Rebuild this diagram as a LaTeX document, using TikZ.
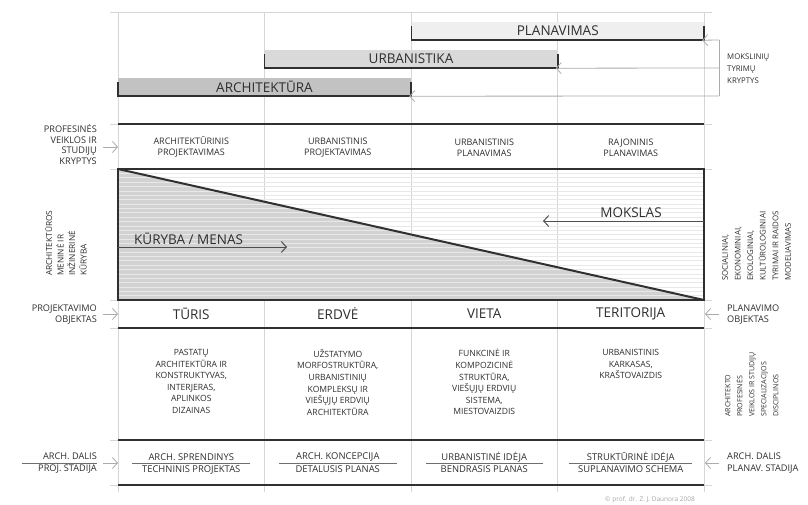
\documentclass[tikz,border=0pt]{standalone}
\usepackage{fontspec}
\setmainfont{Open Sans}
\usepackage{xcolor}
\usepackage{tikz}
\usetikzlibrary{arrows.meta}

\definecolor{ink}{HTML}{303030}
\definecolor{txt}{HTML}{2e2e2e}
\definecolor{rulegray}{HTML}{d6d6d6}
\definecolor{stripegray}{HTML}{e8e8e8}
\definecolor{shadegray}{HTML}{d2d2d2}
\definecolor{barA}{HTML}{c2c2c2}
\definecolor{barU}{HTML}{d9d9d9}
\definecolor{barP}{HTML}{efefef}
\definecolor{pointgray}{HTML}{ababab}

\tikzset{
  heavy/.style={ink,line width=2pt},
  gridline/.style={rulegray,line width=0.8pt},
  bar/.style={inner sep=0pt,minimum height=18pt,text=txt,font=\fontsize{13.5}{13.5}\selectfont},
  big/.style={inner sep=0pt,text=txt,font=\fontsize{13.5}{13.5}\selectfont},
  head/.style={inner sep=0pt,text=txt,align=center,font=\fontsize{9}{11}\selectfont},
  desc/.style={inner sep=0pt,text=txt,align=center,anchor=north,font=\fontsize{8.6}{11.6}\selectfont},
  stage/.style={inner sep=0pt,text=txt,font=\fontsize{9.4}{9.4}\selectfont},
  side/.style={inner sep=0pt,text=txt,font=\fontsize{9.2}{10.8}\selectfont},
  upright/.style={inner sep=0pt,text=txt,rotate=90,align=left,anchor=north west,font=\fontsize{8}{11.8}\selectfont},
  pointer/.style={pointgray,line width=0.8pt,-{Straight Barb[length=5pt,width=11pt,line width=0.8pt]}},
  flow/.style={ink!85,line width=1pt,-{Straight Barb[length=5pt,width=11pt,line width=1pt]}}
}

\begin{document}
\begin{tikzpicture}[x=1pt,y=-1pt]
  \useasboundingbox (0,0) rectangle (808,505);

  % light grid behind everything
  \draw[gridline] (110,12) -- (712,12);
  \foreach \y in {124,169,300,328,440,485}
    \draw[gridline] (110,\y) -- (712,\y);
  \foreach \x in {118,264.5,411,557.5,704}
    \draw[gridline] (\x,12) -- (\x,492);

  % research bars
  \node[bar,fill=barP,minimum width=292.5pt] (plan) at (557.75,31) {PLANAVIMAS};
  \node[bar,fill=barU,minimum width=293pt] (urb) at (411,59) {URBANISTIKA};
  \node[bar,fill=barA,minimum width=293pt] (arch) at (264.5,87) {ARCHITEKTŪRA};
  \foreach \b in {plan,urb,arch}
    \draw[ink,line width=1.6pt] ([yshift=14pt]\b.south west) -- (\b.south west)
      -- (\b.south east) -- ([yshift=14pt]\b.south east);

  \node[side,anchor=west,align=left,font=\fontsize{7.8}{11.8}\selectfont] (tyr) at (727,69) {MOKSLINIŲ\\TYRIMŲ\\KRYPTYS};
  \coordinate (k1) at (719,40);
  \coordinate (k2) at (719,68);
  \coordinate (k3) at (719,96);
  \draw[pointgray,line width=0.8pt] (k1) -- (k3);
  \draw[pointer,shorten >=-2pt] (k1) -- (plan.south east);
  \draw[pointer,shorten >=-2pt] (k2) -- (urb.south east);
  \draw[pointer,shorten >=-2pt] (k3) -- (arch.south east);

  % main box
  \fill[shadegray] (118,169) -- (704,300) -- (118,300) -- cycle;
  \foreach \i in {1,...,29}
    \draw[stripegray,line width=0.6pt] (119,{169+4.37*\i}) -- (703,{169+4.37*\i});
  \draw[heavy] (118,169) rectangle (704,300);
  \draw[heavy] (118,169) -- (704,300);
  \foreach \y in {124,328,440,485}
    \draw[heavy] (118,\y) -- (704,\y);

  \node[big,anchor=west] (kur) at (134,239) {KŪRYBA / MENAS};
  \coordinate (ka) at (118,247);
  \coordinate (kb) at (287,247);
  \draw[flow] (ka) -- (kb);
  \node[big] (mok) at (631,213) {MOKSLAS};
  \coordinate (ma) at (704,221);
  \coordinate (mb) at (543,221);
  \draw[flow] (ma) -- (mb);

  % columns
  \node[head] (h1) at (191.25,147.5) {ARCHITEKTŪRINIS\\PROJEKTAVIMAS};
  \node[head] (h2) at (337.75,147.5) {URBANISTINIS\\PROJEKTAVIMAS};
  \node[head] (h3) at (484.25,147.5) {URBANISTINIS\\PLANAVIMAS};
  \node[head] (h4) at (630.75,147.5) {RAJONINIS\\PLANAVIMAS};

  \node[big] (o1) at (191.25,314) {TŪRIS};
  \node[big] (o2) at (337.75,314) {ERDVĖ};
  \node[big] (o3) at (484.25,314) {VIETA};
  \node[big] (o4) at (630.75,314) {TERITORIJA};

  \node[desc] (d1) at (191.25,349) {PASTATŲ\\ARCHITEKTŪRA IR\\KONSTRUKTYVAS,\\INTERJERAS,\\APLINKOS\\DIZAINAS};
  \node[desc] (d2) at (337.75,349) {UŽSTATYMO\\MORFOSTRUKTŪRA,\\URBANISTINIŲ\\KOMPLEKSŲ IR\\VIEŠŲJŲ ERDVIŲ\\ARCHITEKTŪRA};
  \node[desc] (d3) at (484.25,349) {FUNKCINĖ IR\\KOMPOZICINĖ\\STRUKTŪRA,\\VIEŠŲJŲ ERDVIŲ\\SISTEMA,\\MIESTOVAIZDIS};
  \node[desc] (d4) at (630.75,349) {URBANISTINIS\\KARKASAS,\\KRAŠTOVAIZDIS};

  \node[stage] (s1) at (191.25,457) {ARCH. SPRENDINYS};
  \node[stage] (p1) at (191.25,469.5) {TECHNINIS PROJEKTAS};
  \node[stage] (s2) at (337.75,457) {ARCH. KONCEPCIJA};
  \node[stage] (p2) at (337.75,469.5) {DETALUSIS PLANAS};
  \node[stage] (s3) at (484.25,457) {URBANISTINĖ IDĖJA};
  \node[stage] (p3) at (484.25,469.5) {BENDRASIS PLANAS};
  \node[stage] (s4) at (630.75,457) {STRUKTŪRINĖ IDĖJA};
  \node[stage] (p4) at (630.75,469.5) {SUPLANAVIMO SCHEMA};
  \draw[ink!70,line width=0.6pt] (132,463) -- (250,463);
  \draw[ink!70,line width=0.6pt] (279,463) -- (397,463);
  \draw[ink!70,line width=0.6pt] (426,463) -- (543,463);
  \draw[ink!70,line width=0.6pt] (569,463) -- (692,463);

  % left side
  \node[side,anchor=east,align=right] (pvk) at (97,144.5) {PROFESINĖS\\VEIKLOS IR\\STUDIJŲ\\KRYPTYS};
  \node[upright,font=\fontsize{8.3}{11.5}\selectfont] (amk) at (45,276) {ARCHITEKTŪROS\\MENINĖ IR\\INŽINERINĖ\\KŪRYBA};
  \node[side,anchor=east,align=right] (pob) at (97,314.5) {PROJEKTAVIMO\\OBJEKTAS};
  \node[side,anchor=east,align=right,font=\fontsize{9.2}{12}\selectfont] (pst) at (97,463) {ARCH. DALIS\\PROJ. STADIJA};
  \draw[ink!70,line width=0.6pt] (22,463) -- (97,463);
  \coordinate (l1) at (103,147);
  \coordinate (l1e) at (118,147);
  \coordinate (l2) at (103,314);
  \coordinate (l2e) at (118,314);
  \coordinate (l3) at (103,463);
  \coordinate (l3e) at (118,463);
  \draw[pointer] (l1) -- (l1e);
  \draw[pointer] (l2) -- (l2e);
  \draw[pointer] (l3) -- (l3e);

  % right side
  \node[upright,font=\fontsize{7.9}{12.6}\selectfont] (sek) at (722,281) {SOCIALINIAI,\\EKONOMINIAI,\\EKOLOGINIAI,\\KULTŪROLOGINIAI\\TYRIMAI IR RAIDOS\\MODELIAVIMAS};
  \node[side,anchor=west,align=left] (plo) at (727,314.5) {PLANAVIMO\\OBJEKTAS};
  \node[upright,font=\fontsize{7.1}{12}\selectfont] (aps) at (725,417) {ARCHITEKTO\\PROFESINĖS\\VEIKLOS IR STUDIJŲ\\SPECIALIZACIJOS\\DISCIPLINOS};
  \node[side,anchor=west,align=left,font=\fontsize{9.2}{12}\selectfont] (pls) at (727,463) {ARCH. DALIS\\PLANAV. STADIJA};
  \coordinate (r1) at (719,314);
  \coordinate (r1e) at (705,314);
  \coordinate (r2) at (719,463);
  \coordinate (r2e) at (705,463);
  \draw[pointer] (r1) -- (r1e);
  \draw[pointer] (r2) -- (r2e);

  \node[inner sep=0pt,text=black!35,font=\fontsize{6.5}{6.5}\selectfont] (copy) at (650,500) {© prof. dr. Z. J. Daunora 2008};
\end{tikzpicture}
\end{document}
